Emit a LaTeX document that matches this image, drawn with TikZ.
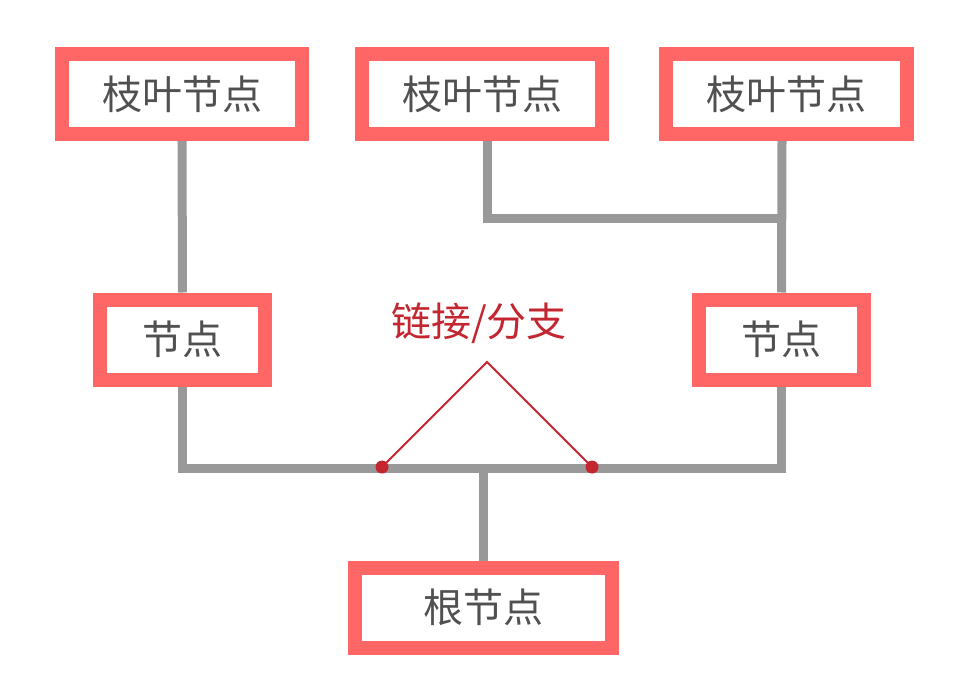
\documentclass[tikz,border=0pt]{standalone}
\usepackage{fontspec}
\setmainfont{Noto Sans CJK SC}
\usetikzlibrary{backgrounds}
\definecolor{boxred}{RGB}{255,102,102}
\definecolor{linegrey}{RGB}{153,153,153}
\definecolor{txtgrey}{RGB}{80,80,80}
\definecolor{labred}{RGB}{196,38,48}
\tikzset{
  treebox/.style={draw=boxred, line width=14bp, fill=white, minimum height=80bp, inner sep=0pt,
    text=txtgrey, font=\fontsize{40bp}{42bp}\selectfont},
  branch/.style={draw=linegrey, line width=9bp},
  redline/.style={draw=labred, line width=2bp},
  reddot/.style={circle, fill=labred, minimum size=13bp, inner sep=0pt},
  lab/.style={text=labred, font=\fontsize{40bp}{42bp}\selectfont, inner sep=0pt}
}
\begin{document}
\begin{tikzpicture}[x=1bp,y=-1bp]
\useasboundingbox (0,0) rectangle (979,700);
% nodes
\node[treebox, minimum width=240bp] (b1) at (182,94) {枝叶节点};
\node[treebox, minimum width=240bp] (b2) at (482,94) {枝叶节点};
\node[treebox, minimum width=241bp] (b3) at (786.5,94) {枝叶节点};
\node[treebox, minimum width=165bp] (nl) at (182.5,339.5) {节点};
\node[treebox, minimum width=165bp] (nr) at (781.5,339.5) {节点};
\node[treebox, minimum width=257bp] (root) at (483.5,607.5) {根节点};
\coordinate (top) at (487,218);
\coordinate (bus) at (483,468);
\coordinate (apex) at (487,362);
\node[lab] (label) at (479,323) {链接/分支};
\node[reddot] (d1) at (382,467) {};
\node[reddot] (d2) at (592,467) {};
\begin{pgfonlayer}{background}
\fill[white] (0,0) rectangle (979,700);
\draw[branch] (b1.south) -- (nl.north);
\draw[branch] ([xshift=5bp]b2.south) -- ([xshift=5bp]b2.south |- top) -- ([xshift=-4.5bp]b3.south |- top);
\draw[branch] ([xshift=-4.5bp]b3.south) -- (nr.north);
\draw[branch] (nl.south) -- (nl.south |- bus) -- (nr.south |- bus) -- (nr.south);
\draw[branch] (root.north) -- (root.north |- bus);
\end{pgfonlayer}
\draw[redline] (d1.center) -- (apex) -- (d2.center);
\end{tikzpicture}
\end{document}
